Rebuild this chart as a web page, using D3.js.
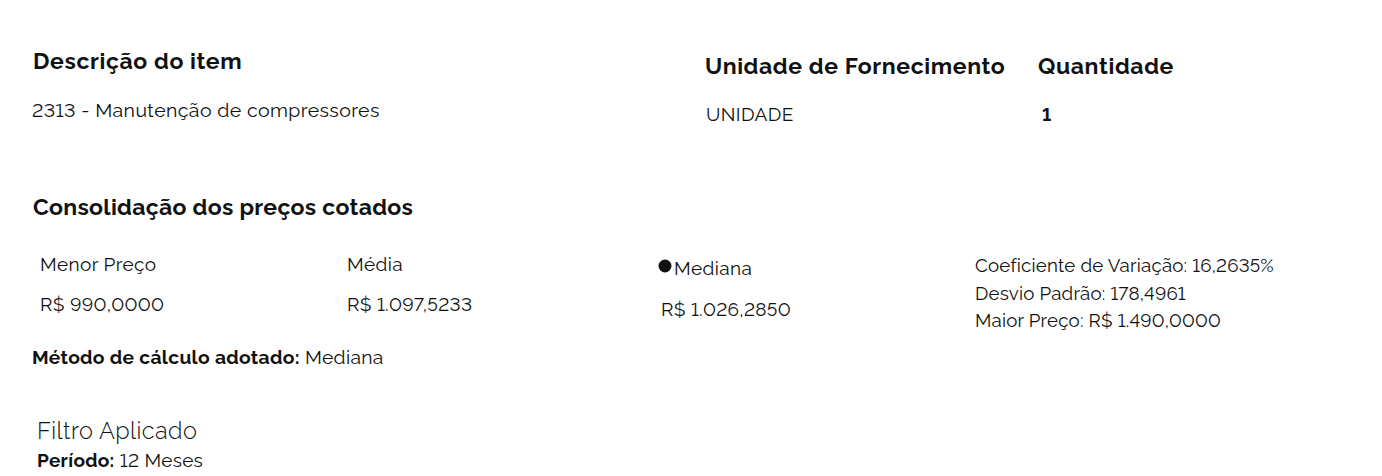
<!DOCTYPE html>
<html>
<head>
<meta charset="utf-8">
<script src="https://cdn.jsdelivr.net/npm/d3@7"></script>
<style>
  html, body { margin: 0; padding: 0; background: #fff; }
  svg { display: block; font-family: Raleway, Lato, sans-serif; font-variant-numeric: lining-nums; font-feature-settings: "lnum" 1; }
</style>
</head>
<body>
<div id="chart"></div>
<script>
// item header
const itemTitle = "Descrição do item";
const itemText = "2313 - Manutenção de compressores";
const unitTitles = ["Unidade de Fornecimento", "Quantidade"];
const unitValues = ["UNIDADE", "1"];

// consolidated prices
const sectionTitle = "Consolidação dos preços cotados";
const priceLabels = ["Menor Preço", "Média", "Mediana"];
const priceValues = ["R$ 990,0000", "R$ 1.097,5233", "R$ 1.026,2850"];
const statLines = [
  "Coeficiente de Variação: 16,2635%",
  "Desvio Padrão: 178,4961",
  "Maior Preço: R$ 1.490,0000"
];
const methodLabel = "Método de cálculo adotado:";
const methodValue = "Mediana";

// filter
const filterTitle = "Filtro Aplicado";
const filterLabel = "Período:";
const filterValue = "12 Meses";

const width = 1382;
const height = 476;

const svg = d3
  .select("#chart")
  .append("svg")
  .attr("width", width)
  .attr("height", height)
  .attr("viewBox", [0, 0, width, height]);

svg.append("rect").attr("width", width).attr("height", height).attr("fill", "#fff");

const addText = (x, y, text, size, weight, spacing) => {
  return svg
    .append("text")
    .attr("x", x)
    .attr("y", y)
    .attr("fill", "#111")
    .attr("font-size", size)
    .attr("font-weight", weight)
    .attr("letter-spacing", spacing || 0)
    .text(text);
};

// header blocks
addText(33, 69, itemTitle, 23, 700, 0.6);
addText(32, 117, itemText, 19.5, 400, 0.4);

const unitX = d3.scaleOrdinal().domain(unitTitles).range([705, 1038]);
svg
  .append("g")
  .selectAll("text")
  .data(unitTitles)
  .join("text")
  .attr("x", (d) => unitX(d))
  .attr("y", 74)
  .attr("fill", "#111")
  .attr("font-size", 23)
  .attr("font-weight", 700)
  .attr("letter-spacing", 0.6)
  .text((d) => d);

svg
  .append("g")
  .selectAll("text")
  .data(unitValues)
  .join("text")
  .attr("x", (d, i) => unitX(unitTitles[i]) + (i === 1 ? 4 : 1))
  .attr("y", 121)
  .attr("fill", "#111")
  .attr("font-size", 19)
  .attr("font-weight", (d, i) => (i === 1 ? 700 : 400))
  .attr("letter-spacing", 0.4)
  .text((d) => d);

// consolidation
addText(33, 215, sectionTitle, 23, 700, 0.3);

const colX = d3.scaleOrdinal().domain(priceLabels).range([40, 347, 674]);
const labelY = [271, 271, 275];
const valueY = [311, 311, 316];
const valueX = [40, 347, 661];

svg
  .append("g")
  .selectAll("text")
  .data(priceLabels)
  .join("text")
  .attr("x", (d) => colX(d))
  .attr("y", (d, i) => labelY[i])
  .attr("fill", "#111")
  .attr("font-size", 19)
  .attr("letter-spacing", 0.4)
  .text((d) => d);

// marker before "Mediana"
svg
  .append("circle")
  .attr("cx", colX("Mediana") - 9)
  .attr("cy", 266)
  .attr("r", 6.5)
  .attr("fill", "#111");

svg
  .append("g")
  .selectAll("text")
  .data(priceValues)
  .join("text")
  .attr("x", (d, i) => valueX[i])
  .attr("y", (d, i) => valueY[i])
  .attr("fill", "#111")
  .attr("font-size", 19)
  .attr("letter-spacing", 0.3)
  .text((d) => d);

const statY = d3.scalePoint().domain(d3.range(statLines.length)).range([272, 327]);
svg
  .append("g")
  .selectAll("text")
  .data(statLines)
  .join("text")
  .attr("x", 975)
  .attr("y", (d, i) => statY(i))
  .attr("fill", "#111")
  .attr("font-size", 18.7)
  .attr("letter-spacing", 0.2)
  .text((d) => d);

const method = svg
  .append("text")
  .attr("x", 32)
  .attr("y", 364)
  .attr("fill", "#111")
  .attr("font-size", 19.3)
  .attr("letter-spacing", 0.3);
method.append("tspan").attr("font-weight", 700).text(methodLabel);
method.append("tspan").attr("font-weight", 400).text(" " + methodValue);

// filter
addText(37, 439, filterTitle, 23.5, 300, 0.4);
const period = svg
  .append("text")
  .attr("x", 37)
  .attr("y", 467)
  .attr("fill", "#111")
  .attr("font-size", 19)
  .attr("letter-spacing", 0.3);
period.append("tspan").attr("font-weight", 700).text(filterLabel);
period.append("tspan").attr("font-weight", 400).text(" " + filterValue);
</script>
</body>
</html>
